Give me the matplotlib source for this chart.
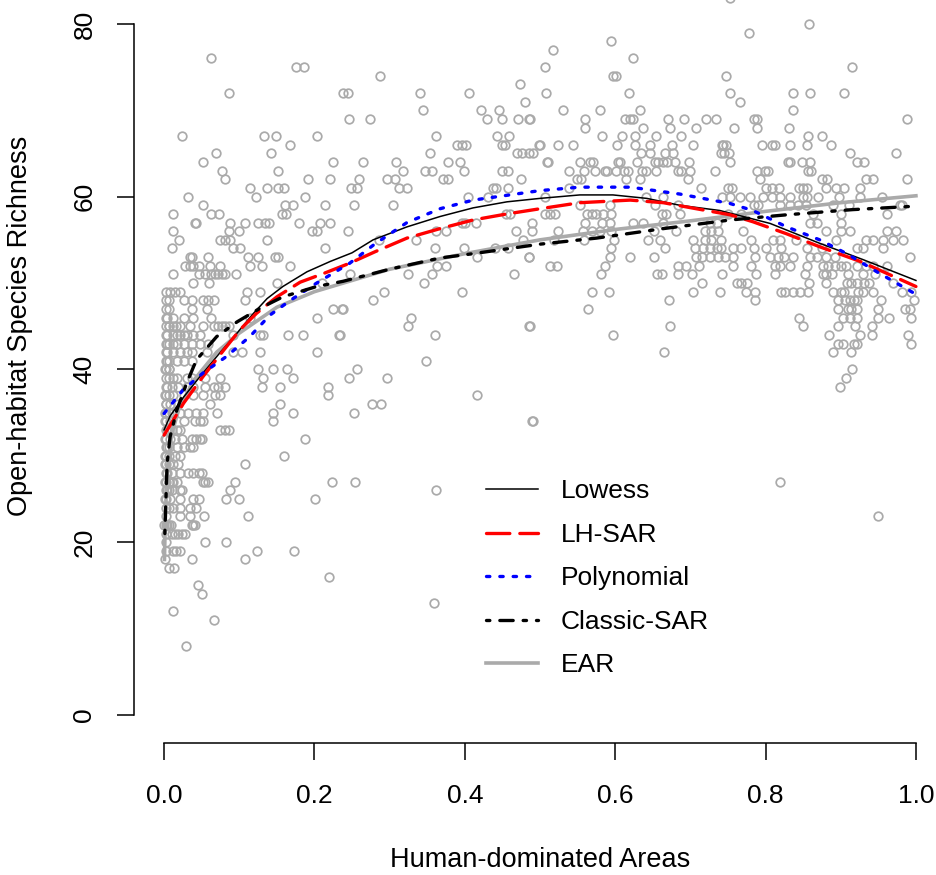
import numpy as np
import matplotlib
matplotlib.use("Agg")
import matplotlib.pyplot as plt

plt.rcParams["font.family"] = ["Liberation Sans", "DejaVu Sans"]

# observed sites: (human-dominated area, open-habitat species richness)
obs_left = [
    (.024, 67), (.052, 64), (.032, 60), (.012, 58), (.052, 59), (.041, 57), (.043, 57), (.012, 56),
    (.02, 55), (.01, 54), (.035, 53), (.059, 53), (.037, 53),
    (.028, 52), (.035, 52), (.039, 52), (.046, 52), (.012, 51), (.046, 51), (.055, 51), (.039, 50),
    (.008, 49), (.015, 49), (.021, 49), (.007, 48), (.026, 48), (.037, 48), (.052, 48), (.059, 48),
    (.037, 47), (.057, 47), (.004, 46), (.012, 46), (.026, 46), (.038, 46),
    (.007, 45), (.012, 45), (.016, 45), (.021, 45), (.035, 45), (.052, 45),
    (.004, 44), (.012, 44), (.017, 44), (.021, 44), (.026, 44), (.03, 44), (.039, 44), (.048, 44),
    (.004, 43), (.012, 43), (.017, 43), (.026, 43), (.037, 43), (.048, 43), (.059, 43),
    (.004, 42), (.012, 42), (.021, 42), (.03, 42), (.037, 42), (.057, 42),
    (.004, 41), (.017, 41), (.026, 41), (.037, 41), (.001, 40), (.006, 40),
    (.012, 39), (.017, 39), (.03, 39), (.037, 39), (.055, 39),
    (.004, 38), (.01, 38), (.019, 38), (.03, 38), (.039, 38), (.055, 38),
    (.001, 37), (.012, 37), (.026, 37), (.039, 37), (.052, 37), (.003, 36), (.008, 36), (.019, 36),
    (.001, 35), (.01, 35), (.021, 35), (.032, 35), (.043, 35), (.052, 35),
    (.001, 34), (.008, 34), (.026, 34), (.041, 34), (.048, 34), (.052, 34),
    (.004, 33), (.01, 33), (.017, 33), (.021, 33),
    (.001, 32), (.008, 32), (.015, 32), (.024, 32), (.037, 32), (.043, 32), (.048, 32), (.05, 32),
    (.004, 31), (.017, 31), (.026, 31), (.035, 31), (.038, 31), (.001, 30), (.015, 30), (.021, 30),
    (.001, 29), (.012, 29), (.019, 29),
    (.004, 28), (.01, 28), (.021, 28), (.032, 28), (.039, 28), (.046, 28), (.05, 28),
    (.001, 27), (.006, 27), (.01, 27), (.012, 27), (.017, 27), (.052, 27), (.055, 27), (.059, 27),
    (.004, 26), (.006, 26), (.01, 26), (.021, 26), (.024, 26),
    (.001, 25), (.008, 25), (.021, 25), (.038, 25), (.046, 25), (.012, 24), (.021, 24), (.034, 24), (.043, 24),
    (.021, 23), (.035, 23), (.053, 23), (.0, 22), (.004, 22), (.009, 22), (.037, 22), (.039, 22), (.041, 22),
    (.01, 21), (.015, 21), (.019, 21), (.024, 21), (.028, 21), (.055, 20), (.012, 19), (.016, 19), (.021, 19),
    (.001, 18), (.037, 18), (.006, 17), (.013, 17), (.045, 15), (.051, 14), (.012, 12), (.029, 8),
]

# the packed columns of sites right at zero
obs_zero_rich = [19, 20, 21, 22, 23, 24, 25, 26, 27, 28, 29, 30, 31, 32, 33, 34, 35, 36, 37, 38, 39,
                 40, 41, 42, 43, 44, 45, 46, 47, 48, 49]
obs_near_zero_rich = [22, 24, 27, 29, 30, 31, 33, 35, 37, 39, 40, 41, 43, 45, 47]

obs_midleft = [
    (.062, 76), (.176, 75), (.186, 75), (.087, 72), (.133, 67), (.149, 67), (.204, 67), (.168, 66),
    (.069, 65), (.142, 65), (.225, 64), (.077, 63), (.152, 63), (.081, 62), (.192, 62), (.221, 62),
    (.114, 61), (.137, 61), (.152, 61), (.16, 61), (.122, 60), (.188, 60), (.073, 58), (.062, 58),
    (.157, 58), (.162, 58), (.161, 59), (.171, 59), (.214, 59), (.088, 57), (.107, 57), (.125, 57),
    (.134, 57), (.139, 57), (.18, 57), (.207, 57), (.221, 57), (.087, 56), (.099, 56), (.197, 56),
    (.203, 56), (.074, 55), (.081, 55), (.088, 55), (.137, 55), (.092, 54), (.101, 54), (.214, 54),
    (.112, 53), (.125, 53), (.148, 53), (.152, 53),
    (.061, 52), (.074, 52), (.114, 52), (.13, 52), (.168, 52),
    (.063, 51), (.068, 51), (.072, 51), (.077, 51), (.081, 51), (.096, 51), (.06, 50), (.15, 50), (.21, 50),
    (.11, 49), (.128, 49), (.066, 48), (.108, 48), (.225, 47), (.236, 47), (.063, 46), (.114, 46), (.203, 46),
    (.066, 45), (.072, 45), (.077, 45), (.081, 45), (.086, 45),
    (.092, 44), (.128, 44), (.132, 44), (.165, 44), (.185, 44), (.232, 44),
    (.092, 42), (.103, 42), (.128, 42), (.203, 42), (.125, 40), (.145, 40), (.163, 40),
    (.074, 39), (.132, 39), (.171, 39), (.066, 38), (.072, 38), (.081, 38), (.13, 38), (.154, 38), (.218, 38),
    (.068, 37), (.074, 37), (.218, 37), (.061, 36), (.154, 36), (.07, 35), (.145, 35), (.172, 35), (.145, 34),
    (.074, 33), (.081, 33), (.086, 33), (.188, 32), (.159, 30), (.108, 29), (.094, 27), (.223, 27), (.088, 26),
    (.082, 25), (.099, 25), (.201, 25), (.111, 23), (.082, 20), (.124, 19), (.173, 19), (.107, 18),
    (.22, 16), (.067, 11),
]

obs_mid = [
    (.287, 74), (.238, 72), (.244, 72), (.34, 72), (.405, 72), (.473, 73), (.345, 70), (.422, 70),
    (.446, 70), (.48, 71), (.246, 69), (.274, 69), (.429, 69), (.45, 69), (.471, 69), (.485, 69),
    (.362, 67), (.443, 67), (.459, 67), (.389, 66), (.396, 66), (.401, 66), (.449, 66), (.453, 66),
    (.499, 66), (.354, 65), (.469, 65), (.491, 65), (.476, 65), (.485, 65), (.264, 64), (.309, 64),
    (.378, 64), (.393, 64), (.318, 63), (.347, 63), (.356, 63), (.399, 63), (.449, 63), (.458, 63),
    (.259, 62), (.296, 62), (.307, 62), (.371, 62), (.378, 62), (.475, 62), (.249, 61), (.256, 61),
    (.312, 61), (.323, 61), (.438, 61), (.442, 61), (.457, 61), (.252, 59), (.304, 59), (.404, 60),
    (.431, 60), (.455, 58), (.46, 58), (.396, 57), (.4, 57), (.415, 57), (.245, 56), (.362, 56),
    (.375, 56), (.468, 56), (.489, 56), (.286, 55), (.335, 55), (.477, 55), (.36, 54), (.399, 54),
    (.44, 54), (.457, 54), (.486, 53), (.416, 53), (.485, 53), (.247, 51), (.325, 51), (.356, 51),
    (.375, 52), (.363, 52), (.465, 51), (.346, 50), (.292, 49), (.396, 49), (.278, 48), (.238, 47),
    (.328, 46), (.325, 45), (.485, 45), (.234, 44), (.36, 44), (.348, 41), (.256, 40), (.246, 39),
    (.296, 39), (.416, 37), (.277, 36), (.289, 36), (.253, 35), (.49, 34), (.254, 27), (.362, 26), (.359, 13),
]

obs_midright = [
    (.595, 78), (.517, 77), (.624, 76), (.507, 75), (.597, 74), (.601, 74), (.508, 72), (.618, 72),
    (.531, 70), (.58, 70), (.633, 70), (.487, 69), (.56, 69), (.56, 68), (.613, 69), (.62, 69),
    (.624, 69), (.67, 69), (.691, 69), (.721, 69), (.734, 69), (.637, 68), (.673, 68), (.707, 68),
    (.582, 67), (.609, 67), (.626, 67), (.654, 67), (.688, 67), (.5, 66), (.524, 66), (.544, 66),
    (.602, 66), (.626, 66), (.646, 66), (.675, 66), (.704, 66), (.742, 66),
    (.635, 65), (.646, 65), (.666, 65), (.677, 65), (.741, 65), (.745, 65),
    (.509, 64), (.511, 64), (.553, 64), (.566, 64), (.57, 64), (.604, 64), (.607, 64), (.629, 64),
    (.653, 64), (.657, 64), (.664, 64), (.669, 64), (.68, 64), (.698, 64),
    (.539, 63), (.558, 63), (.573, 63), (.586, 63), (.589, 63), (.601, 63), (.612, 63), (.617, 63),
    (.636, 63), (.641, 63), (.654, 63), (.683, 63), (.687, 63), (.699, 63), (.733, 63),
    (.549, 62), (.555, 62), (.615, 62), (.633, 62), (.697, 62), (.539, 61), (.714, 61),
    (.507, 60), (.641, 60), (.664, 60), (.742, 60), (.553, 59), (.593, 59), (.653, 59), (.684, 59),
    (.507, 58), (.513, 58), (.52, 58), (.562, 58), (.569, 58), (.575, 58), (.584, 58), (.595, 58),
    (.662, 58), (.668, 58), (.686, 58),
    (.49, 57), (.56, 57), (.582, 57), (.593, 57), (.624, 57), (.637, 57), (.664, 57), (.726, 57), (.735, 57),
    (.524, 56), (.557, 56), (.569, 56), (.58, 56), (.595, 56), (.651, 56), (.681, 56), (.719, 56),
    (.728, 56), (.737, 56),
    (.518, 55), (.558, 55), (.598, 55), (.644, 55), (.66, 55), (.704, 55), (.719, 55), (.728, 55), (.741, 55),
    (.595, 54), (.666, 54), (.706, 54), (.717, 54), (.726, 54), (.735, 54), (.741, 54),
    (.593, 53), (.62, 53), (.651, 53), (.708, 53), (.715, 53), (.737, 53), (.726, 53), (.746, 53),
    (.513, 52), (.522, 52), (.586, 52), (.684, 52), (.694, 52), (.712, 52),
    (.581, 51), (.655, 51), (.662, 51), (.683, 51), (.702, 51), (.742, 51), (.716, 50),
    (.569, 49), (.592, 49), (.703, 49), (.74, 49), (.672, 48), (.564, 47), (.487, 45), (.673, 45),
    (.597, 44), (.665, 42), (.491, 34),
]

obs_right = [
    (.753, 83), (.858, 80), (.778, 79), (.915, 75), (.748, 74), (.753, 72), (.836, 72), (.859, 72),
    (.904, 72), (.766, 71), (.836, 70), (.784, 69), (.789, 69), (.988, 69), (.758, 68), (.789, 68),
    (.831, 68), (.856, 67), (.875, 67),
    (.744, 66), (.748, 66), (.795, 66), (.808, 66), (.813, 66), (.832, 66), (.855, 66), (.887, 66),
    (.752, 65), (.912, 65), (.974, 65),
    (.753, 64), (.83, 64), (.832, 64), (.849, 64), (.859, 64), (.922, 64), (.931, 64),
    (.789, 63), (.799, 63), (.803, 63), (.857, 63), (.86, 63),
    (.793, 62), (.875, 62), (.882, 62), (.933, 62), (.943, 62), (.988, 62),
    (.75, 61), (.755, 61), (.801, 61), (.808, 61), (.818, 61), (.845, 61), (.85, 61), (.855, 61),
    (.881, 61), (.894, 61), (.904, 61), (.926, 61),
    (.753, 60), (.766, 60), (.779, 60), (.797, 60), (.808, 60), (.819, 60), (.832, 60), (.85, 60),
    (.855, 60), (.87, 60), (.898, 60), (.926, 60), (.955, 60),
    (.784, 59), (.79, 59), (.819, 59), (.832, 59), (.843, 59), (.854, 59), (.89, 59), (.911, 59),
    (.979, 59), (.981, 59),
    (.75, 58), (.768, 58), (.863, 58), (.901, 58), (.961, 58), (.859, 57), (.868, 57), (.901, 57),
    (.77, 56), (.881, 56), (.9, 56), (.912, 56), (.961, 56), (.974, 56),
    (.781, 55), (.81, 55), (.819, 55), (.841, 55), (.894, 55), (.934, 55), (.943, 55), (.956, 55),
    (.97, 55), (.983, 55),
    (.757, 54), (.768, 54), (.784, 54), (.801, 54), (.821, 54), (.855, 54), (.875, 54), (.921, 54),
    (.93, 54), (.956, 54),
    (.806, 53), (.824, 53), (.837, 53), (.859, 53), (.868, 53), (.881, 53), (.992, 53), (.757, 53),
    (.786, 53), (.817, 53), (.892, 53),
    (.757, 52), (.781, 52), (.812, 52), (.819, 52), (.832, 52), (.855, 52), (.877, 52), (.883, 52),
    (.892, 52), (.901, 52), (.907, 52), (.921, 52), (.934, 52), (.943, 52), (.961, 52),
    (.787, 51), (.812, 51), (.852, 51), (.877, 51), (.881, 51), (.888, 51), (.91, 51), (.93, 51), (.945, 51),
    (.762, 50), (.768, 50), (.775, 50), (.858, 50), (.88, 50), (.908, 50), (.914, 50), (.921, 50),
    (.931, 50), (.937, 50), (.97, 50),
    (.774, 49), (.786, 49), (.821, 49), (.826, 49), (.837, 49), (.846, 49), (.857, 49), (.89, 49),
    (.901, 49), (.904, 49), (.923, 49), (.93, 49), (.943, 49), (.981, 49), (.994, 49),
    (.786, 48), (.897, 48), (.906, 48), (.912, 48), (.917, 48), (.922, 48), (.954, 48), (.998, 48),
    (.897, 47), (.91, 47), (.914, 47), (.921, 47), (.95, 47), (.985, 47), (.992, 47),
    (.844, 46), (.903, 46), (.912, 46), (.921, 46), (.95, 46), (.964, 46), (.994, 46),
    (.85, 45), (.897, 45), (.919, 45), (.941, 45), (.885, 44), (.925, 44), (.941, 44), (.99, 44),
    (.897, 43), (.903, 43), (.917, 43), (.921, 43), (.994, 43), (.89, 42), (.914, 42),
    (.915, 40), (.907, 39), (.899, 38), (.819, 27), (.949, 23),
]

# fitted curves
lowess_x = [0, .008, .026, .048, .074, .097, .119, .137, .158, .19, .221, .25, .278, .323, .367,
            .411, .456, .5, .553, .597, .642, .686, .739, .806, .872, .93, 1.0]
lowess_y = [33, 34.6, 36.8, 39.2, 41.9, 44.2, 46.5, 48.2, 49.6, 51.3, 52.5, 53.5, 55, 56.5, 57.7,
            58.7, 59.4, 59.8, 60.2, 60.2, 59.8, 59.0, 58.4, 56.9, 54.6, 52.7, 50.3]

lhsar_x = [0, .026, .052, .079, .101, .123, .15, .181, .212, .247, .28, .323, .367, .411, .456,
           .5, .553, .62, .664, .708, .753, .783, .828, .872, .926, 1.0]
lhsar_y = [32.4, 36.1, 39.2, 42.2, 44.6, 46.5, 48.4, 50.1, 51.1, 52.3, 53.6, 55.2, 56.3, 57.3, 58.0,
           58.6, 59.3, 59.6, 59.3, 58.6, 57.9, 57.1, 55.7, 54.2, 52.5, 49.6]

poly_x = [0, .025, .052, .083, .114, .141, .168, .203, .247, .28, .323, .367, .411, .5, .553,
          .62, .686, .753, .783, .828, .872, .908, .95, 1.0]
poly_y = [34.9, 37.6, 39.6, 41.5, 43.8, 46.3, 48.0, 50.0, 52.3, 54.5, 57.0, 58.6, 59.6, 60.7, 61.1,
          61.1, 60.3, 59.2, 58.4, 56.5, 55.0, 53.4, 51.2, 48.7]

csar_x = [0.001, .004, .008, .017, .03, .043, .07, .097, .128, .158, .203, .238, .3, .367, .411,
          .5, .575, .664, .753, .828, .916, 1.0]
csar_y = [21, 29.1, 32.2, 35.3, 38.4, 41.1, 43.8, 45.5, 47.1, 48.4, 49.6, 50.2, 51.6, 52.9, 53.4,
          54.5, 55.2, 56.3, 57.3, 57.9, 58.5, 58.9]

ear_x = [0.0005, .002, .005, .01, .02, .04, .07, .1, .15, .2, .25, .3, .4, .5, .6, .7, .8, .9, 1.0]
ear_y = [18, 24, 29, 32.5, 35.5, 38.8, 42, 44.2, 47.2, 49, 50.3, 51.6, 53.4, 55, 56.2, 57.2,
         58.3, 59.3, 60.1]

pts = np.array(obs_left + obs_midleft + obs_mid + obs_midright + obs_right, dtype=float)
zero_col = np.column_stack([np.full(len(obs_zero_rich), 0.002), obs_zero_rich])
near_col = np.column_stack([np.full(len(obs_near_zero_rich), 0.007), obs_near_zero_rich])
pts = np.vstack([zero_col, near_col, pts])

fig = plt.figure(figsize=(9.37, 8.75), dpi=100)
ax = fig.add_axes([134 / 937, 0.1513, 812 / 937, 0.853])

ax.plot(pts[:, 0], pts[:, 1], "o", mfc="none", mec="#aaaaaa", ms=6.2, mew=1.25, zorder=1)

ax.plot(lowess_x, lowess_y, color="black", lw=1.1, label="Lowess", zorder=3)
ax.plot(lhsar_x, lhsar_y, color="red", lw=2.4, dashes=(7, 3), dash_capstyle="round",
        label="LH-SAR", zorder=3)
ax.plot(poly_x, poly_y, color="blue", lw=2.4, dashes=(1, 3), dash_capstyle="round",
        label="Polynomial", zorder=3)
ax.plot(csar_x, csar_y, color="black", lw=2.4, dashes=(1, 3, 4, 3), dash_capstyle="round",
        label="Classic-SAR", zorder=3)
ax.plot(ear_x, ear_y, color="#aaaaaa", lw=2.6, label="EAR", zorder=2)

ax.set_xlim(-0.04, 1.04)
ax.set_ylim(-3.2, 83.2)
for s in ("top", "right"):
    ax.spines[s].set_visible(False)
ax.spines["left"].set_bounds(0, 80)
ax.spines["bottom"].set_bounds(0, 1)
for s in ("left", "bottom"):
    ax.spines[s].set_linewidth(1.1)

ax.set_xticks([0, 0.2, 0.4, 0.6, 0.8, 1.0])
ax.set_xticklabels(["0.0", "0.2", "0.4", "0.6", "0.8", "1.0"])
ax.set_yticks([0, 20, 40, 60, 80])
ax.set_yticklabels(["0", "20", "40", "60", "80"], rotation=90, va="center")
ax.tick_params(axis="both", length=12, width=1.1, labelsize=19)
ax.tick_params(axis="x", pad=18)
ax.tick_params(axis="y", pad=15)

ax.set_xlabel("Human-dominated Areas", fontsize=19.5, labelpad=28)
ax.set_ylabel("Open-habitat Species Richness", fontsize=19.5)
ax.yaxis.set_label_coords(-0.124, 0.559)

ax.legend(loc="upper left", bbox_to_anchor=(0.42, 0.367), frameon=False, fontsize=19,
          handlelength=2.0, handletextpad=0.85, labelspacing=0.74, borderaxespad=0)

fig.savefig("out.png", dpi=100)
